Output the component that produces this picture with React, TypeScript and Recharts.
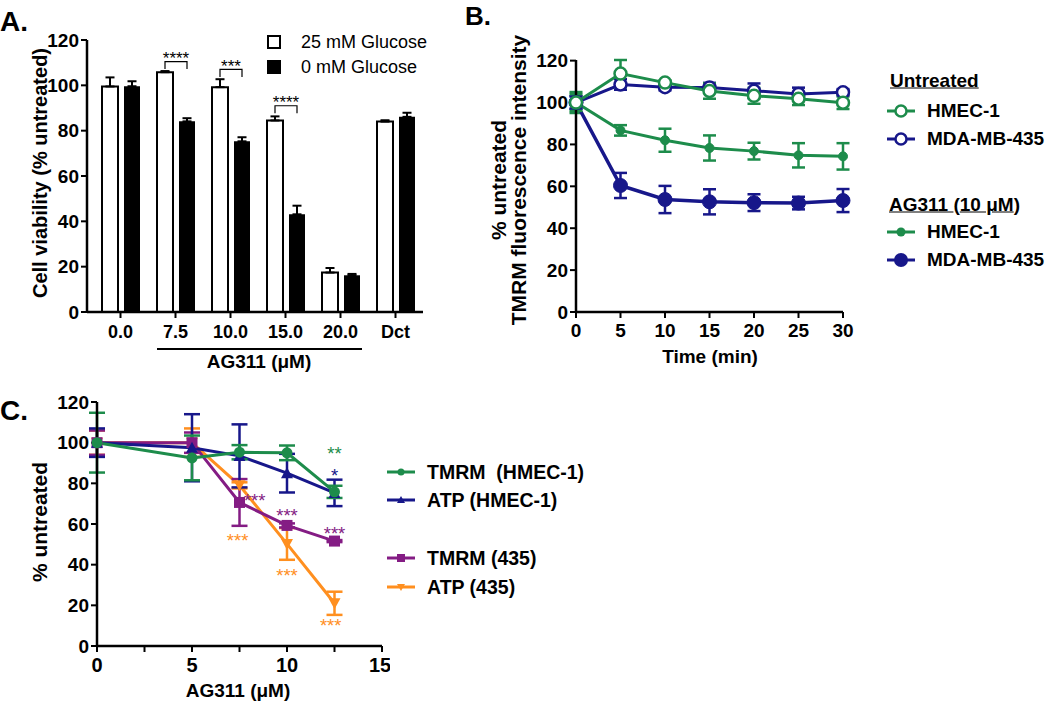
import React from "react";
import { BarChart, Bar, LineChart, Line, XAxis, YAxis, ErrorBar, LabelList, ReferenceDot } from "recharts";

const FONT = "'Liberation Sans', Arial, Helvetica, sans-serif";
const GREEN = "#1d8c4b";
const NAVY = "#17178a";
const PURPLE = "#841c84";
const ORANGE = "#ff8f1f";
const BAR_GAP = 6;

// Panel A: cell viability
const doseLabels = ["0.0", "7.5", "10.0", "15.0", "20.0", "Dct"];
const viability25 = [99.5, 105.8, 99.2, 84.5, 17.4, 84.0];
const viability25Err = [4, 0.5, 3.5, 1.8, 2, 0.6];
const viability0 = [99.6, 84.1, 75.3, 43.1, 16.2, 86.1];
const viability0Err = [2.2, 1.4, 1.8, 3.8, 0.6, 1.8];
const sigStars = ["", "****", "***", "****", "", ""];
const sigBracket = [0, 110.5, 107, 91, 0, 0];

// Panel B: TMRM time course
const minutes = [0, 5, 10, 15, 20, 25, 30];
const untreatedHmec = [100, 113.8, 109.5, 105.5, 103.2, 101.8, 99.9];
const untreatedHmecErr = [4, 6.5, 1, 3.7, 3.8, 3, 3];
const untreatedMda = [100, 108.6, 107.3, 107.2, 105.6, 104.1, 104.9];
const untreatedMdaErr = [3, 2.5, 1.5, 2.2, 3.5, 3, 1.5];
const ag311Hmec = [100, 86.7, 82, 78.3, 76.8, 74.8, 74.3];
const ag311HmecErr = [5, 2.5, 5.5, 6, 4, 5.8, 6.3];
const ag311Mda = [100, 60.4, 53.7, 52.6, 52.2, 52, 53.2];
const ag311MdaErr = [3, 6, 6.5, 6, 4, 3, 5.5];

// Panel C: dose response
const doses = [0, 5, 7.5, 10, 12.5];
const tmrmHmec = [100, 92.5, 95.3, 95, 75.8];
const tmrmHmecErr = [14.7, 11, 3.5, 3.6, 3];
const atpHmec = [100, 97.5, 93.5, 85, 75.3];
const atpHmecErr = [7, 16.5, 15.5, 9.5, 6.5];
const tmrm435 = [100, 100, 70.6, 59.3, 51.6];
const tmrm435Err = [6, 5, 11.5, 1, 0.5];
const atp435 = [100, 100, 79, 50.2, 21];
const atp435Err = [6, 7, 1.5, 7.8, 5.7];

const starDoses = [12.5, 12.5, 8.3, 10, 12.5, 7.4, 10, 12.3];
const starLevels = [96.4, 86, 73.7, 66, 57.3, 53.7, 36.5, 11.9];
const starText = ["**", "*", "***", "***", "***", "***", "***", "***"];
const starSeries = ["tmrmHmec", "atpHmec", "tmrm435", "tmrm435", "tmrm435", "atp435", "atp435", "atp435"];

const seriesColor: Record<string, string> = {
  tmrmHmec: GREEN,
  atpHmec: NAVY,
  tmrm435: PURPLE,
  atp435: ORANGE,
};

const dataA = doseLabels.map((d, i) => ({
  dose: d,
  g25: viability25[i],
  g25e: [0, viability25Err[i]],
  g0: viability0[i],
  g0e: [0, viability0Err[i]],
  sig: sigStars[i],
}));

const dataB = minutes.map((t, i) => ({
  t,
  uh: untreatedHmec[i],
  uhe: untreatedHmecErr[i],
  um: untreatedMda[i],
  ume: untreatedMdaErr[i],
  ah: ag311Hmec[i],
  ahe: ag311HmecErr[i],
  am: ag311Mda[i],
  ame: ag311MdaErr[i],
}));

const dataC = doses.map((d, i) => ({
  d,
  tmrmHmec: tmrmHmec[i],
  tmrmHmecE: tmrmHmecErr[i],
  atpHmec: atpHmec[i],
  atpHmecE: atpHmecErr[i],
  tmrm435: tmrm435[i],
  tmrm435E: tmrm435Err[i],
  atp435: atp435[i],
  atp435E: atp435Err[i],
}));

const axisLine = { stroke: "#000", strokeWidth: 2.5 };
const tickLine = { stroke: "#000", strokeWidth: 2 };
const tickFont = (size: number) => ({ fill: "#000", fontSize: size, fontWeight: 700, fontFamily: FONT });

function Txt({ x, y, children, size, weight = 700, anchor = "middle", rotate = 0, color = "#000" }: any) {
  const tx = anchor === "middle" ? "-50%" : anchor === "end" ? "-100%" : "0";
  return (
    <div
      style={{
        position: "absolute",
        left: x,
        top: y,
        transform: `translate(${tx}, -50%) rotate(${rotate}deg)`,
        fontFamily: FONT,
        fontSize: size,
        fontWeight: weight,
        color,
        lineHeight: 1,
        whiteSpace: "pre",
      }}
    >
      {children}
    </div>
  );
}

const renderBracket = (props: any) => {
  const { index, value } = props;
  if (!value) return null;
  const vb = props.viewBox ?? props;
  const x = Number(vb.x ?? props.x);
  const y = Number(vb.y ?? props.y);
  const w = Number(vb.width ?? props.width);
  const h = Number(vb.height ?? props.height);
  const base = y + h;
  const px = h / viability25[index];
  const top = base - sigBracket[index] * px;
  const x1 = x + w / 2;
  const x2 = x1 + w + BAR_GAP;
  const leg = 3.3 * px;
  return (
    <g key={`br-${index}`}>
      <path d={`M${x1},${top + leg}V${top}H${x2}V${top + leg}`} stroke="#000" strokeWidth={1.2} fill="none" />
      <text x={(x1 + x2) / 2} y={top + 2.5} textAnchor="middle" fontSize={17} fontFamily={FONT} fill="#000">
        {value}
      </text>
    </g>
  );
};

const markerC = (shape: string, color: string) => (props: any) => {
  const { cx, cy, index } = props;
  if (cx == null || cy == null) return <g key={`m-${shape}-${index}`} />;
  if (shape === "circle") return <circle key={`m-${shape}-${index}`} cx={cx} cy={cy} r={5.5} fill={color} />;
  if (shape === "square")
    return <rect key={`m-${shape}-${index}`} x={cx - 5.5} y={cy - 5.5} width={11} height={11} fill={color} />;
  if (shape === "up")
    return <polygon key={`m-${shape}-${index}`} points={`${cx},${cy - 6} ${cx - 6},${cy + 5} ${cx + 6},${cy + 5}`} fill={color} />;
  return <polygon key={`m-${shape}-${index}`} points={`${cx},${cy + 6} ${cx - 6},${cy - 5} ${cx + 6},${cy - 5}`} fill={color} />;
};

const starLabel = (text: string, color: string) => (props: any) => {
  const vb = props.viewBox || {};
  const cx = vb.x + (vb.width || 0) / 2;
  const cy = vb.y + (vb.height || 0) / 2;
  return (
    <text x={cx} y={cy + 10.5} textAnchor="middle" fontSize={18.5} fontFamily={FONT} fill={color}>
      {text}
    </text>
  );
};

function LegendMarker({ color, kind }: { color: string; kind: string }) {
  return (
    <svg width={32} height={18} style={{ display: "block" }}>
      <line x1={1} y1={9} x2={29} y2={9} stroke={color} strokeWidth={3} />
      {kind === "open" && <circle cx={15} cy={9} r={5.5} fill="#fff" stroke={color} strokeWidth={2.5} />}
      {kind === "dotSmall" && <circle cx={15} cy={9} r={4.5} fill={color} />}
      {kind === "dotLarge" && <circle cx={15} cy={9} r={7} fill={color} />}
      {kind === "circle" && <circle cx={15} cy={9} r={3.5} fill={color} />}
      {kind === "square" && <rect x={11} y={5} width={8} height={8} fill={color} />}
      {kind === "up" && <polygon points="15,5 11,12 19,12" fill={color} />}
      {kind === "down" && <polygon points="15,13 11,6 19,6" fill={color} />}
    </svg>
  );
}

function LegendRow({ x, y, color, kind, label, size }: any) {
  return (
    <div style={{ position: "absolute", left: x, top: y - 9, display: "flex", alignItems: "center" }}>
      <LegendMarker color={color} kind={kind} />
      <span style={{ marginLeft: 9, fontFamily: FONT, fontWeight: 700, fontSize: size, lineHeight: "18px", whiteSpace: "pre" }}>
        {label}
      </span>
    </div>
  );
}

export default function App() {
  return (
    <div style={{ position: "absolute", left: 0, top: 0, width: 1050, height: 703, background: "#fff", overflow: "hidden" }}>
      {/* Panel A */}
      <div style={{ position: "absolute", left: 0, top: 0 }}>
        <BarChart width={440} height={380} data={dataA} margin={{ top: 40, right: 17, left: 27, bottom: 38 }} barSize={16} barGap={BAR_GAP}>
          <XAxis
            dataKey="dose"
            interval={0}
            padding={{ left: 6, right: 0 }}
            axisLine={axisLine}
            tickLine={tickLine}
            tickSize={6}
            tickMargin={7}
            tick={tickFont(18)}
          />
          <YAxis
            domain={[0, 120]}
            ticks={[0, 20, 40, 60, 80, 100, 120]}
            width={60}
            axisLine={axisLine}
            tickLine={tickLine}
            tickSize={6}
            tickMargin={2}
            tick={tickFont(19)}
          />
          <Bar dataKey="g25" fill="#fff" stroke="#000" strokeWidth={2} isAnimationActive={false}>
            <ErrorBar dataKey="g25e" width={4.5} stroke="#000" strokeWidth={2} />
            <LabelList dataKey="sig" content={renderBracket} />
          </Bar>
          <Bar dataKey="g0" fill="#000" isAnimationActive={false}>
            <ErrorBar dataKey="g0e" width={4.5} stroke="#000" strokeWidth={2} />
          </Bar>
        </BarChart>
      </div>
      <Txt x={0} y={22} size={28} anchor="start">A.</Txt>
      <Txt x={40} y={173} size={20} rotate={-90}>Cell viability (% untreated)</Txt>
      <div style={{ position: "absolute", left: 157, top: 348, width: 205, height: 2, background: "#000" }} />
      <Txt x={259} y={361} size={19}>AG311 (μM)</Txt>
      <div style={{ position: "absolute", left: 267, top: 35, width: 10, height: 10, border: "2px solid #000", background: "#fff" }} />
      <div style={{ position: "absolute", left: 267, top: 60, width: 14, height: 14, background: "#000" }} />
      <Txt x={301} y={42} size={18} weight={400} anchor="start">25 mM Glucose</Txt>
      <Txt x={301} y={67} size={18} weight={400} anchor="start">0 mM Glucose</Txt>

      {/* Panel B */}
      <div style={{ position: "absolute", left: 480, top: 0 }}>
        <LineChart width={380} height={380} data={dataB} margin={{ top: 60, right: 17, left: 36, bottom: 38 }}>
          <XAxis
            dataKey="t"
            type="number"
            domain={[0, 30]}
            ticks={[0, 5, 10, 15, 20, 25, 30]}
            axisLine={axisLine}
            tickLine={tickLine}
            tickSize={6}
            tickMargin={6}
            tick={tickFont(19)}
          />
          <YAxis
            domain={[0, 120]}
            ticks={[0, 20, 40, 60, 80, 100, 120]}
            width={60}
            axisLine={axisLine}
            tickLine={tickLine}
            tickSize={6}
            tickMargin={2}
            tick={tickFont(19)}
          />
          <Line dataKey="ah" stroke={GREEN} strokeWidth={3} dot={{ r: 4.5, fill: GREEN, stroke: GREEN, strokeWidth: 1 }} activeDot={false} isAnimationActive={false}>
            <ErrorBar dataKey="ahe" width={6.5} stroke={GREEN} strokeWidth={2.5} />
          </Line>
          <Line dataKey="am" stroke={NAVY} strokeWidth={3.5} dot={{ r: 7, fill: NAVY, stroke: NAVY, strokeWidth: 1 }} activeDot={false} isAnimationActive={false}>
            <ErrorBar dataKey="ame" width={6.5} stroke={NAVY} strokeWidth={2.5} />
          </Line>
          <Line dataKey="um" stroke={NAVY} strokeWidth={3} dot={{ r: 6, fill: "#fff", stroke: NAVY, strokeWidth: 2.5 }} activeDot={false} isAnimationActive={false}>
            <ErrorBar dataKey="ume" width={6.5} stroke={NAVY} strokeWidth={2.5} />
          </Line>
          <Line dataKey="uh" stroke={GREEN} strokeWidth={3} dot={{ r: 6, fill: "#fff", stroke: GREEN, strokeWidth: 2.5 }} activeDot={false} isAnimationActive={false}>
            <ErrorBar dataKey="uhe" width={6.5} stroke={GREEN} strokeWidth={2.5} />
          </Line>
        </LineChart>
      </div>
      <Txt x={465} y={16} size={26} anchor="start">B.</Txt>
      <Txt x={498} y={180} size={21} rotate={-90}>% untreated</Txt>
      <Txt x={518} y={180} size={21} rotate={-90}>TMRM fluorescence intensity</Txt>
      <Txt x={710} y={356} size={19}>Time (min)</Txt>
      <Txt x={890} y={80} size={19} anchor="start"><u>Untreated</u></Txt>
      <LegendRow x={886} y={111} color={GREEN} kind="open" label="HMEC-1" size={19} />
      <LegendRow x={886} y={139} color={NAVY} kind="open" label="MDA-MB-435" size={19} />
      <Txt x={889} y={204} size={19} anchor="start">
        <u>AG311 </u>(<u>10 μM</u>)
      </Txt>
      <LegendRow x={886} y={232} color={GREEN} kind="dotSmall" label="HMEC-1" size={19} />
      <LegendRow x={886} y={260} color={NAVY} kind="dotLarge" label="MDA-MB-435" size={19} />

      {/* Panel C */}
      <div style={{ position: "absolute", left: 0, top: 380 }}>
        <LineChart width={390} height={320} data={dataC} margin={{ top: 22, right: 8, left: 37, bottom: 24 }}>
          <XAxis
            dataKey="d"
            type="number"
            domain={[0, 15]}
            ticks={[0, 2.5, 5, 7.5, 10, 12.5, 15]}
            tickFormatter={(v: number) => (v % 5 === 0 ? String(v) : "")}
            axisLine={axisLine}
            tickLine={tickLine}
            tickSize={6}
            tickMargin={6}
            tick={tickFont(20)}
          />
          <YAxis
            domain={[0, 120]}
            ticks={[0, 20, 40, 60, 80, 100, 120]}
            width={60}
            axisLine={axisLine}
            tickLine={tickLine}
            tickSize={6}
            tickMargin={2}
            tick={tickFont(19)}
          />
          <Line dataKey="atp435" stroke={ORANGE} strokeWidth={3} dot={markerC("down", ORANGE)} activeDot={false} isAnimationActive={false}>
            <ErrorBar dataKey="atp435E" width={8} stroke={ORANGE} strokeWidth={2.5} />
          </Line>
          <Line dataKey="tmrm435" stroke={PURPLE} strokeWidth={3} dot={markerC("square", PURPLE)} activeDot={false} isAnimationActive={false}>
            <ErrorBar dataKey="tmrm435E" width={8} stroke={PURPLE} strokeWidth={2.5} />
          </Line>
          <Line dataKey="atpHmec" stroke={NAVY} strokeWidth={3} dot={markerC("up", NAVY)} activeDot={false} isAnimationActive={false}>
            <ErrorBar dataKey="atpHmecE" width={8} stroke={NAVY} strokeWidth={2.5} />
          </Line>
          <Line dataKey="tmrmHmec" stroke={GREEN} strokeWidth={3} dot={markerC("circle", GREEN)} activeDot={false} isAnimationActive={false}>
            <ErrorBar dataKey="tmrmHmecE" width={8} stroke={GREEN} strokeWidth={2.5} />
          </Line>
          {starDoses.map((d, i) => (
            <ReferenceDot
              key={`star-${i}`}
              x={d}
              y={starLevels[i]}
              r={1}
              fill="none"
              stroke="none"
              label={{ content: starLabel(starText[i], seriesColor[starSeries[i]]) }}
            />
          ))}
        </LineChart>
      </div>
      <Txt x={0} y={411} size={28} anchor="start">C.</Txt>
      <Txt x={39} y={522} size={21} rotate={-90}>% untreated</Txt>
      <Txt x={238} y={690} size={19}>AG311 (μM)</Txt>
      <LegendRow x={386} y={472} color={GREEN} kind="circle" label="TMRM  (HMEC-1)" size={19.5} />
      <LegendRow x={386} y={500} color={NAVY} kind="up" label="ATP (HMEC-1)" size={19.5} />
      <LegendRow x={386} y={558} color={PURPLE} kind="square" label="TMRM (435)" size={19.5} />
      <LegendRow x={386} y={587} color={ORANGE} kind="down" label="ATP (435)" size={19.5} />
    </div>
  );
}
